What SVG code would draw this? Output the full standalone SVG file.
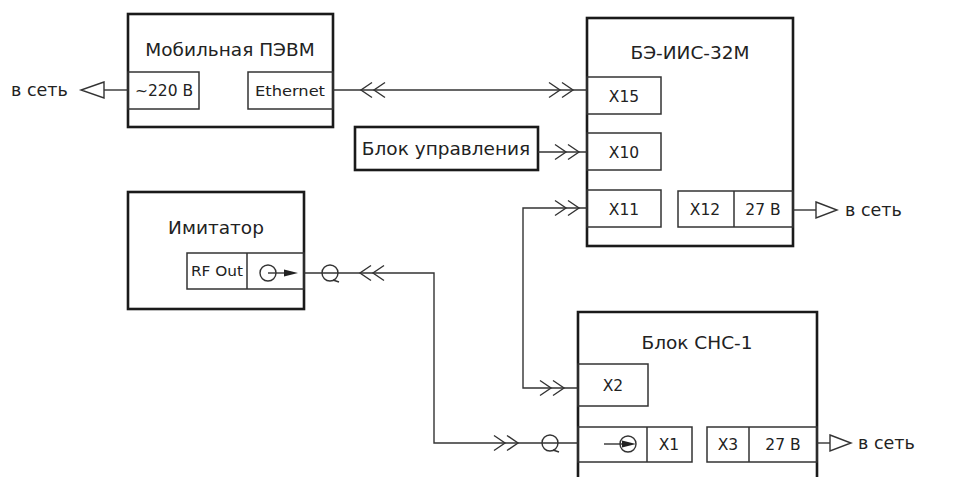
<svg xmlns="http://www.w3.org/2000/svg" xmlns:xlink="http://www.w3.org/1999/xlink" width="957" height="477" viewBox="0 0 957 477">
<style>
.box{fill:none;stroke:#1a1a1a;stroke-width:2.6}
.port{fill:none;stroke:#333;stroke-width:1.5}
.ln{fill:none;stroke:#333;stroke-width:1.4}
.t{font-family:"DejaVu Sans","Noto Sans",sans-serif;fill:#222}
.title{font-size:18.5px;text-anchor:middle}
.p{font-size:15.5px;text-anchor:middle}
.ps{font-size:13.5px;text-anchor:middle}
.net{font-size:17.5px}
</style>
<defs>
<path id="chevR" d="M-24,-7.5 L-13,0 L-24,7.5 M-11,-7.5 L0,0 L-11,7.5" class="ln"/>
<path id="chevL" d="M24,-7.5 L13,0 L24,7.5 M11,-7.5 L0,0 L11,7.5" class="ln"/>
<g id="q"><circle cx="0" cy="0" r="8" class="ln"/><path d="M3,7 L9,9" class="ln"/></g>
</defs>
<rect width="957" height="477" fill="#fff"/>

<g id="pc">
<rect class="box" x="128" y="14" width="205" height="113"/>
<text class="t title" x="230" y="56">Мобильная ПЭВМ</text>
<rect class="port" x="128" y="72" width="71" height="37"/>
<text class="t p" x="164" y="96">~220 В</text>
<rect class="port" x="248" y="72" width="85" height="37"/>
<text class="t ps" x="290" y="96" textLength="70" lengthAdjust="spacingAndGlyphs">Ethernet</text>
</g>

<g id="bei">
<rect class="box" x="587" y="18" width="206" height="228"/>
<text class="t title" x="690" y="59">БЭ-ИИС-32М</text>
<rect class="port" x="587" y="77" width="74" height="37"/>
<text class="t p" x="624" y="102">X15</text>
<rect class="port" x="587" y="133" width="74" height="37"/>
<text class="t p" x="624" y="158">X10</text>
<rect class="port" x="587" y="190" width="74" height="37"/>
<text class="t p" x="624" y="215">X11</text>
<rect class="port" x="678" y="191" width="115" height="36"/>
<line class="port" x1="734" y1="191" x2="734" y2="227"/>
<text class="t p" x="705" y="215">X12</text>
<text class="t p" x="763" y="215">27 В</text>
</g>

<g id="control">
<rect class="box" x="355" y="127" width="183" height="43"/>
<text class="t title" x="446" y="155">Блок управления</text>
</g>

<g id="imit">
<rect class="box" x="128" y="192" width="176" height="117"/>
<text class="t title" x="216" y="234">Имитатор</text>
<rect class="port" x="187" y="253" width="117" height="36"/>
<line class="port" x1="247" y1="253" x2="247" y2="289"/>
<text class="t ps" x="217" y="276" textLength="52" lengthAdjust="spacingAndGlyphs">RF Out</text>
<circle cx="268" cy="273" r="8" class="ln"/>
<line class="ln" x1="268" y1="273" x2="290" y2="273"/>
<path d="M298,273 L284,269.5 L284,276.5 Z" fill="#222"/>
</g>

<g id="sns">
<path class="box" d="M578,480 L578,312 L817,312 L817,480"/>
<text class="t title" x="697" y="349">Блок СНС-1</text>
<rect class="port" x="578" y="364" width="70" height="42"/>
<text class="t p" x="613" y="391">X2</text>
<rect class="port" x="578" y="427" width="114" height="35"/>
<line class="port" x1="647" y1="427" x2="647" y2="462"/>
<line class="ln" x1="604" y1="444" x2="628" y2="444"/>
<circle cx="628" cy="444" r="8" class="ln"/>
<path d="M636,444 L622,440.5 L622,447.5 Z" fill="#222"/>
<text class="t p" x="669" y="450">X1</text>
<rect class="port" x="707" y="427" width="110" height="35"/>
<line class="port" x1="749" y1="427" x2="749" y2="462"/>
<text class="t p" x="728" y="450">X3</text>
<text class="t p" x="783" y="450">27 В</text>
</g>

<g id="connectors">
<!-- PC power -->
<line class="ln" x1="104" y1="90" x2="128" y2="90"/>
<path class="ln" d="M104,82 L81,90 L104,98 Z"/>
<text class="t net" x="11" y="96">в сеть</text>
<!-- Ethernet - X15 -->
<line class="ln" x1="333" y1="90" x2="587" y2="90"/>
<use xlink:href="#chevL" x="361" y="90"/>
<use xlink:href="#chevR" x="573" y="90"/>
<!-- control - X10 -->
<line class="ln" x1="538" y1="152" x2="587" y2="152"/>
<use xlink:href="#chevR" x="579" y="152"/>
<!-- X11 - X2 -->
<path class="ln" d="M587,208 L523,208 L523,388 L578,388"/>
<use xlink:href="#chevR" x="579" y="208"/>
<use xlink:href="#chevR" x="564" y="388"/>
<!-- X12 power -->
<line class="ln" x1="793" y1="210" x2="816" y2="210"/>
<path class="ln" d="M816,202 L837,210 L816,218 Z"/>
<text class="t net" x="845" y="216">в сеть</text>
<!-- RF Out - X1 -->
<path class="ln" d="M304,273 L434,273 L434,443 L578,443"/>
<use xlink:href="#q" x="330" y="273"/>
<use xlink:href="#chevL" x="360" y="273"/>
<use xlink:href="#chevR" x="518" y="443"/>
<use xlink:href="#q" x="550" y="443"/>
<!-- X3 power -->
<line class="ln" x1="817" y1="443" x2="830" y2="443"/>
<path class="ln" d="M830,435 L851,443 L830,451 Z"/>
<text class="t net" x="858" y="449">в сеть</text>
</g>
</svg>
